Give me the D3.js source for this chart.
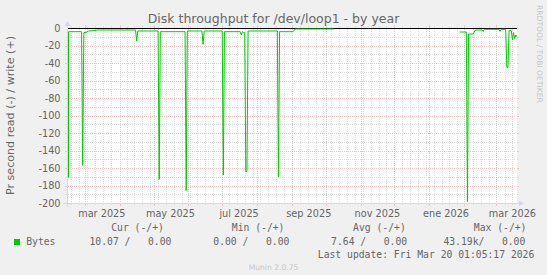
<!DOCTYPE html>
<html>
<head>
<meta charset="utf-8">
<script src="https://cdn.jsdelivr.net/npm/d3@7"></script>
<style>
  body { margin: 0; background: #f0f0f0; }
  svg { display: block; }
  text { font-family: "DejaVu Sans", sans-serif; fill: #666; }
  .mono { font-family: "DejaVu Sans Mono", monospace; white-space: pre; }
</style>
</head>
<body>
<svg id="chart" width="547" height="275"></svg>
<script>
// read throughput (bytes/s), negative side of the munin graph. null = no data
const readDates = [
  "2025-02-13", "2025-02-14", "2025-02-26", "2025-02-27", "2025-02-28", "2025-03-02",
  "2025-03-04", "2025-03-09", "2025-03-12", "2025-04-15", "2025-04-16", "2025-04-17",
  "2025-05-05", "2025-05-06", "2025-05-07", "2025-05-29", "2025-05-30", "2025-05-31",
  "2025-06-13", "2025-06-14", "2025-06-15", "2025-07-01", "2025-07-02", "2025-07-03",
  "2025-07-17", "2025-07-18", "2025-07-19", "2025-07-20", "2025-07-21", "2025-07-22",
  "2025-07-23", "2025-07-24", "2025-08-19", "2025-08-20", "2025-08-21", "2025-09-02",
  "2025-09-04", "2025-10-08", "2025-10-09",
  "2026-01-28", "2026-02-03", "2026-02-04", "2026-02-05", "2026-02-09", "2026-02-11",
  "2026-02-17", "2026-02-18", "2026-02-19", "2026-03-04", "2026-03-05", "2026-03-06",
  "2026-03-10", "2026-03-11", "2026-03-12", "2026-03-13", "2026-03-15", "2026-03-16",
  "2026-03-17", "2026-03-18", "2026-03-19", "2026-03-20"
];
const readValues = [
  -171, -4.2, -4.2, -157, -5.3, -5,
  -3.4, -3, -2.3, -2.3, -15, -3.4,
  -3.4, -173, -4.2, -4.2, -186, -3.4,
  -3.4, -18.7, -3.4, -3.4, -168, -4.2,
  -4.2, -8, -4.2, -5.3, -5.3, -164,
  -164, -3.4, -3.4, -170, -4.2, -4.2,
  -1.1, -1.1, null,
  -4.6, -4.6, -198.5, -6.9, -6.9, -2.3,
  -2.3, -4, -1.5, -1.5, -3.8, -1.5,
  -1.5, -45, -45, -3, -3, -13.7,
  -5.3, -12, -8, -10
];

const yTickValues = [0, -20, -40, -60, -80, -100, -120, -140, -160, -180, -200];
const yMinorValues = [-10, -30, -50, -70, -90, -110, -130, -150, -170, -190];
const xLabelMonths = ["2025-03-01", "2025-05-01", "2025-07-01", "2025-09-01", "2025-11-01", "2026-01-01", "2026-03-01"];
const xLabelTexts = ["mar 2025", "may 2025", "jul 2025", "sep 2025", "nov 2025", "ene 2026", "mar 2026"];

const legendHeaders = ["Cur (-/+)", "Min (-/+)", "Avg (-/+)", "Max (-/+)"];
const legendValues = ["10.07 /   0.00", "0.00 /   0.00", "7.64 /   0.00", "43.19k/   0.00"];

const svg = d3.select("#chart");
const W = 547, H = 275;
const X0 = 67, X1 = 517, YTOP = 28, YBOT = 203;

const endTime = new Date(Date.UTC(2026, 2, 20, 1, 5, 17));
const startTime = new Date(endTime.getTime() - 400 * 864e5); // munin "year" = 400 days

const x = d3.scaleUtc().domain([startTime, endTime]).range([X0, X1]);
const y = d3.scaleLinear().domain([-200, 0]).range([YBOT, YTOP]);

const GRID = "#dedede";
const MGRID = "#f2c4c4";
const AXIS = "#cfd6f8";

svg.append("rect").attr("width", W).attr("height", H).attr("fill", "#f0f0f0");
svg.append("rect")
  .attr("x", X0).attr("y", YTOP)
  .attr("width", X1 - X0).attr("height", YBOT - YTOP)
  .attr("fill", "#fff");

const grid = svg.append("g").attr("shape-rendering", "crispEdges");

// horizontal grid, minor then major
function hLine(v, col, tick) {
  const yy = Math.round(y(v)) + 0.5;
  grid.append("line").attr("x1", X0 - tick).attr("x2", X0).attr("y1", yy).attr("y2", yy).attr("stroke", col);
  grid.append("line").attr("x1", X1).attr("x2", X1 + tick).attr("y1", yy).attr("y2", yy).attr("stroke", col);
  grid.append("line").attr("x1", X0 + 1).attr("x2", X1 - 1).attr("y1", yy).attr("y2", yy)
    .attr("stroke", col).attr("stroke-dasharray", "1,1");
}
yMinorValues.forEach(v => hLine(v, GRID, 2));
yTickValues.filter(v => v !== 0 && v !== -200).forEach(v => hLine(v, MGRID, 2));

// vertical grid: weeks (minor) and months (major)
const months = d3.utcMonth.range(startTime, endTime);
const monthX = months.map(m => Math.round(x(m)));
function vLine(xx, col, tick) {
  xx = xx + 0.5;
  grid.append("line").attr("x1", xx).attr("x2", xx).attr("y1", YBOT).attr("y2", YBOT + tick).attr("stroke", col);
  grid.append("line").attr("x1", xx).attr("x2", xx).attr("y1", YTOP - tick).attr("y2", YTOP).attr("stroke", col);
  grid.append("line").attr("x1", xx).attr("x2", xx).attr("y1", YTOP + 1).attr("y2", YBOT - 1)
    .attr("stroke", col).attr("stroke-dasharray", "1,1");
}
d3.utcMonday.range(startTime, endTime)
  .map(w => Math.round(x(w)))
  .filter(xx => xx > X0 && monthX.every(mx => Math.abs(mx - xx) > 1))
  .forEach(xx => vLine(xx, GRID, 2));
monthX.forEach(xx => vLine(xx, MGRID, 3));

// zero line
svg.append("line")
  .attr("x1", X0).attr("x2", X1)
  .attr("y1", y(0) + 0.5).attr("y2", y(0) + 0.5)
  .attr("stroke", "#000").attr("shape-rendering", "crispEdges");

// axes + arrows
svg.append("line").attr("x1", X0 - 4).attr("x2", X1 + 4).attr("y1", YBOT + 0.5).attr("y2", YBOT + 0.5)
  .attr("stroke", AXIS).attr("shape-rendering", "crispEdges");
svg.append("line").attr("x1", X0 + 0.5).attr("x2", X0 + 0.5).attr("y1", YBOT + 4).attr("y2", YTOP - 4)
  .attr("stroke", AXIS).attr("shape-rendering", "crispEdges");
svg.append("path").attr("fill", AXIS)
  .attr("d", `M${X1 + 2},${YBOT - 2.5}L${X1 + 2},${YBOT + 3.5}L${X1 + 7},${YBOT + 0.5}Z`);
svg.append("path").attr("fill", AXIS)
  .attr("d", `M${X0 - 2.5},${YTOP - 2}L${X0 + 3.5},${YTOP - 2}L${X0 + 0.5},${YTOP - 7}Z`);

// data (drawn over the axis, as in the original)
const points = readDates.map((d, i) => ({ t: d3.isoParse(d + "T00:00:00Z"), v: readValues[i] }));
svg.append("clipPath").attr("id", "plot")
  .append("rect").attr("x", X0).attr("y", YTOP - 1).attr("width", X1 - X0 + 1).attr("height", YBOT - YTOP + 1);
const line = d3.line()
  .defined(d => d.v !== null)
  .x(d => Math.max(x(d.t), X0 + 1.5)) // first sample sits on the first pixel column
  .y(d => y(d.v));
svg.append("path")
  .datum(points)
  .attr("clip-path", "url(#plot)")
  .attr("fill", "none")
  .attr("stroke", "#00cc00")
  .attr("stroke-width", 1)
  .attr("d", line);

// y tick labels
svg.append("g").selectAll("text")
  .data(yTickValues)
  .enter().append("text")
  .attr("x", 60.5)
  .attr("y", d => y(d) + 3.5)
  .attr("text-anchor", "end")
  .attr("font-size", 9.72)
  .text(d => d);

// x labels, centred half a month after the month start (rrdtool style)
svg.append("g").selectAll("text")
  .data(xLabelMonths)
  .enter().append("text")
  .attr("x", d => x(d3.utcDay.offset(d3.isoParse(d + "T00:00:00Z"), 15)))
  .attr("y", 216.5)
  .attr("text-anchor", "middle")
  .attr("font-size", 9.72)
  .text((d, i) => xLabelTexts[i]);

// title & vertical label
svg.append("text")
  .attr("x", W / 2).attr("y", 23.3)
  .attr("text-anchor", "middle")
  .attr("font-size", 12.5)
  .text("Disk throughput for /dev/loop1 - by year");

svg.append("text")
  .attr("transform", `translate(14,${(YTOP + YBOT) / 2}) rotate(-90)`)
  .attr("text-anchor", "middle")
  .attr("font-size", 11.1)
  .text("Pr second read (-) / write (+)");

svg.append("text")
  .attr("transform", "translate(536.5,5) rotate(90)")
  .attr("font-size", 7.6)
  .style("fill", "#c6c6c6")
  .text("RRDTOOL / TOBI OETIKER");

// legend
const headerX = [111.2, 231.8, 353.1, 473.8];
const valueX = [89.5, 213.3, 331.1, 443.4];
svg.append("g").selectAll("text")
  .data(legendHeaders)
  .enter().append("text")
  .attr("class", "mono")
  .attr("x", (d, i) => headerX[i])
  .attr("y", 231)
  .attr("font-size", 9.72)
  .text(d => d);

svg.append("rect").attr("x", 14).attr("y", 239).attr("width", 6).attr("height", 6).attr("fill", "#00cc00");
svg.append("text").attr("class", "mono").attr("x", 26.2).attr("y", 245).attr("font-size", 9.72).text("Bytes");
svg.append("g").selectAll("text")
  .data(legendValues)
  .enter().append("text")
  .attr("class", "mono")
  .attr("x", (d, i) => valueX[i])
  .attr("y", 245)
  .attr("font-size", 9.72)
  .text(d => d);

svg.append("text").attr("class", "mono")
  .attr("x", 534.3).attr("y", 258)
  .attr("text-anchor", "end")
  .attr("font-size", 9.72)
  .text("Last update: Fri Mar 20 01:05:17 2026");

svg.append("text")
  .attr("x", W / 2).attr("y", 270)
  .attr("text-anchor", "middle")
  .attr("font-size", 7.6)
  .style("fill", "#c6c6c6")
  .text("Munin 2.0.75");
</script>
</body>
</html>
